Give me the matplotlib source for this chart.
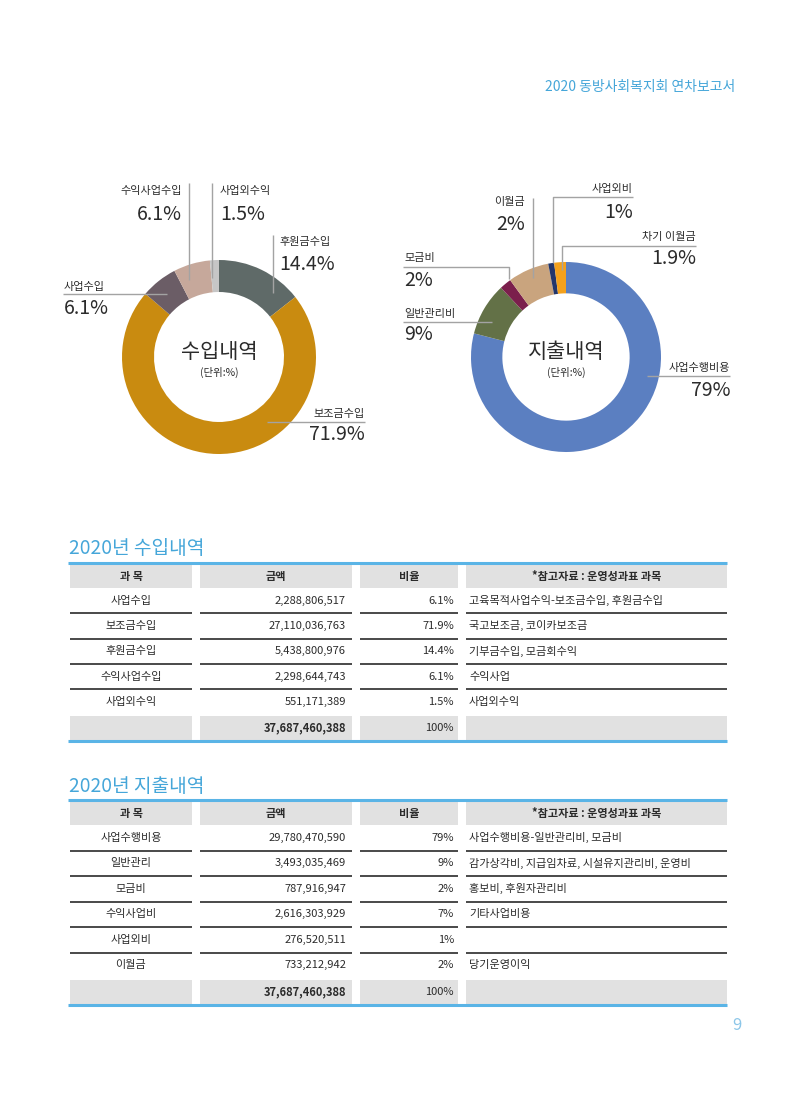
import matplotlib
matplotlib.use("Agg")
import matplotlib.pyplot as plt
from matplotlib.patches import Rectangle

plt.rcParams['font.family'] = ['Noto Sans CJK KR', 'DejaVu Sans']

# ---------------- data ----------------
inc_pie_labels = ['후원금수입', '보조금수입', '사업수입', '수익사업수입', '사업외수익']
inc_pie_values = [14.4, 71.9, 6.1, 6.1, 1.5]
inc_pie_colors = ['#5f6a68', '#c98b10', '#6b5d66', '#c6a89b', '#c6c6c6']

exp_pie_labels = ['사업수행비용', '일반관리비', '모금비', '이월금', '사업외비', '차기 이월금']
exp_pie_values = [79, 9, 2, 7, 1, 2]
exp_pie_texts = ['79%', '9%', '2%', '2%', '1%', '1.9%']
exp_pie_colors = ['#5b7fc1', '#637147', '#7b1f4c', '#c9a47e', '#23366b', '#f4a11c']

table_headers = ['과 목', '금액', '비율', '*참고자료 : 운영성과표 과목']

inc_items = ['사업수입', '보조금수입', '후원금수입', '수익사업수입', '사업외수익']
inc_amounts = [2288806517, 27110036763, 5438800976, 2298644743, 551171389]
inc_ratios = ['6.1%', '71.9%', '14.4%', '6.1%', '1.5%']
inc_refs = ['고육목적사업수익-보조금수입, 후원금수입', '국고보조금, 코이카보조금',
            '기부금수입, 모금회수익', '수익사업', '사업외수익']
inc_total = 37687460388

exp_items = ['사업수행비용', '일반관리', '모금비', '수익사업비', '사업외비', '이월금']
exp_amounts = [29780470590, 3493035469, 787916947, 2616303929, 276520511, 733212942]
exp_ratios = ['79%', '9%', '2%', '7%', '1%', '2%']
exp_refs = ['사업수행비용-일반관리비, 모금비', '감가상각비, 지급임차료, 시설유지관리비, 운영비',
            '홍보비, 후원자관리비', '기타사업비용', '', '당기운영이익']
exp_total = 37687460388

# ---------------- figure ----------------
W, H = 800, 1094
fig = plt.figure(figsize=(W / 100, H / 100), dpi=100)
fig.patch.set_facecolor('white')


def donut(cx, cy, r, values, colors):
    a = fig.add_axes([(cx - r) / W, 1 - (cy + r) / H, 2 * r / W, 2 * r / H])
    a.pie(values, colors=colors, startangle=90, counterclock=False, radius=1,
          wedgeprops=dict(width=0.33, linewidth=0))
    a.set_xlim(-1, 1)
    a.set_ylim(-1, 1)
    a.set_aspect('auto')
    a.axis('off')
    return a


donut(219, 357, 97, inc_pie_values, inc_pie_colors)
donut(566, 357, 95, exp_pie_values, exp_pie_colors)

ax = fig.add_axes([0, 0, 1, 1])
ax.set_xlim(0, W)
ax.set_ylim(H, 0)
ax.axis('off')
ax.patch.set_alpha(0)

BLUE = '#45a6d9'
TXT = '#2b2b2b'
LINE = '#a3a3a3'
FS = 8

# header & page number
ax.text(735, 87.5, '2020 동방사회복지회 연차보고서', ha='right', va='center',
        fontsize=10, color=BLUE)
ax.text(737, 1026, '9', ha='center', va='center', fontsize=12, color='#8cc6e8')


def lead(xs, ys):
    ax.plot(xs, ys, color=LINE, lw=1, solid_capstyle='butt')


def label(x, y1, y2, name, pct, ha):
    ax.text(x, y1, name, ha=ha, va='center', fontsize=8, color=TXT)
    ax.text(x, y2, pct, ha=ha, va='center', fontsize=14, color=TXT)


# left donut labels
inc_pct = [f'{v}%' for v in inc_pie_values]
lead([273, 273], [235, 293]); label(279, 242, 264, inc_pie_labels[0], inc_pct[0], 'left')
lead([267, 365], [422, 422]); label(365, 414, 435, inc_pie_labels[1], inc_pct[1], 'right')
lead([63, 167], [294, 294]); label(64, 287, 308, inc_pie_labels[2], inc_pct[2], 'left')
lead([189, 189], [183, 280]); label(182, 191, 214, inc_pie_labels[3], inc_pct[3], 'right')
lead([212, 212], [183, 278]); label(220, 191, 214, inc_pie_labels[4], inc_pct[4], 'left')

ax.text(219, 352, '수입내역', ha='center', va='center', fontsize=15, color=TXT)
ax.text(219, 372, '(단위:%)', ha='center', va='center', fontsize=7.5, color=TXT)

# right donut labels
lead([647, 730], [376, 376]); label(730, 368, 390, exp_pie_labels[0], exp_pie_texts[0], 'right')
lead([403, 492], [322, 322]); label(404, 314, 335, exp_pie_labels[1], exp_pie_texts[1], 'left')
lead([403, 509, 509], [267, 267, 279]); label(404, 258, 280, exp_pie_labels[2], exp_pie_texts[2], 'left')
lead([533, 533], [198, 278]); label(525, 202, 225, exp_pie_labels[3], exp_pie_texts[3], 'right')
lead([633, 553, 553], [197, 197, 263]); label(633, 189, 212, exp_pie_labels[4], exp_pie_texts[4], 'right')
lead([696, 562, 562], [246, 246, 270]); label(696, 237, 259, exp_pie_labels[5], exp_pie_texts[5], 'right')

ax.text(566, 352, '지출내역', ha='center', va='center', fontsize=15, color=TXT)
ax.text(566, 372, '(단위:%)', ha='center', va='center', fontsize=7.5, color=TXT)

# ---------------- tables ----------------
cols = [(70, 192), (200, 352), (360, 458), (466, 727)]
GRAY = '#e1e1e1'


def table(title, title_y, top, items, amounts, ratios, refs, total, row_h):
    ax.text(69, title_y, title, ha='left', va='center', fontsize=13.8, color=BLUE)
    ax.plot([68, 727], [top, top], color='#5ab4e6', lw=2.2, solid_capstyle='butt')
    hy0, hy1 = top + 1.5, top + 25
    for (x0, x1) in cols:
        ax.add_patch(Rectangle((x0, hy0), x1 - x0, hy1 - hy0, color=GRAY, lw=0))
    hc = (hy0 + hy1) / 2
    for (x0, x1), h in zip(cols, table_headers):
        ax.text((x0 + x1) / 2, hc, h, ha='center', va='center', fontsize=FS,
                color=TXT, fontweight='bold')
    n = len(items)
    y = hy1
    for i in range(n):
        yc = y + row_h / 2
        ax.text((cols[0][0] + cols[0][1]) / 2, yc, items[i], ha='center', va='center',
                fontsize=FS, color=TXT)
        ax.text(cols[1][1] - 6, yc, f'{amounts[i]:,}', ha='right', va='center',
                fontsize=FS, color=TXT)
        ax.text(cols[2][1] - 4, yc, ratios[i], ha='right', va='center',
                fontsize=FS, color=TXT)
        ax.text(cols[3][0] + 3, yc, refs[i], ha='left', va='center',
                fontsize=FS, color=TXT)
        y += row_h
        if i < n - 1:
            for (x0, x1) in cols:
                ax.plot([x0, x1], [y, y], color='#3a3a3a', lw=1.3, solid_capstyle='butt')
    ty0, ty1 = y + 2, y + 25.5
    for (x0, x1) in cols:
        ax.add_patch(Rectangle((x0, ty0), x1 - x0, ty1 - ty0, color=GRAY, lw=0))
    tc = (ty0 + ty1) / 2
    ax.text(cols[1][1] - 6, tc, f'{total:,}', ha='right', va='center', fontsize=FS,
            color=TXT, fontweight='bold')
    ax.text(cols[2][1] - 4, tc, '100%', ha='right', va='center', fontsize=FS,
            color=TXT)
    ax.plot([68, 727], [ty1 + 1.5, ty1 + 1.5], color='#5ab4e6', lw=2.2,
            solid_capstyle='butt')


table('2020년 수입내역', 549, 563, inc_items, inc_amounts, inc_ratios, inc_refs,
      inc_total, 25.3)
table('2020년 지출내역', 786, 800, exp_items, exp_amounts, exp_ratios, exp_refs,
      exp_total, 25.5)

fig.savefig('out.png', dpi=100, facecolor='white')
